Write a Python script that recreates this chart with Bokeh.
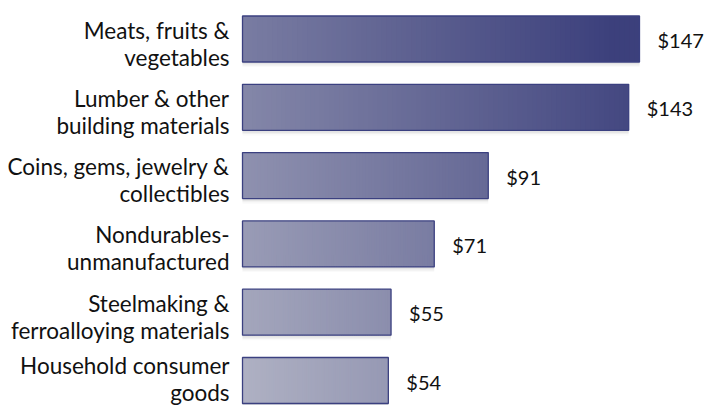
from bokeh.plotting import figure
from bokeh.models import Range1d, ColumnDataSource
from bokeh.embed import file_html
from bokeh.resources import INLINE
from bokeh.core.properties import value as pval

categories = [
    "Meats, fruits &\nvegetables",
    "Lumber & other\nbuilding materials",
    "Coins, gems, jewelry &\ncollectibles",
    "Nondurables-\nunmanufactured",
    "Steelmaking &\nferroalloying materials",
    "Household consumer\ngoods",
]
values = [147, 143, 91, 71, 55, 54]
value_labels = ["$147", "$143", "$91", "$71", "$55", "$54"]

n = len(categories)
rows = list(range(n))

W, H = 706, 405
y_top, y_bot = -0.5637, 5.366

p = figure(width=W, height=H, output_backend="svg", toolbar_location=None,
           x_range=Range1d(-89.61, 171.81), y_range=Range1d(y_bot, y_top),
           min_border=0)
p.axis.visible = False
p.grid.visible = False
p.outline_line_color = None
p.background_fill_color = "white"
p.border_fill_color = "white"

bar_h = 0.673

# soft shadow
for dy, a in [(0.035, 0.10), (0.055, 0.07), (0.075, 0.04)]:
    p.hbar(y=[r + dy for r in rows], left=0, right=values, height=bar_h,
           fill_color="#808080", fill_alpha=a, line_color=None)

# gradient fill via strips
light = (178, 180, 197)
dark = (60, 64, 124)
N = 80
L, R, Y, C = [], [], [], []
for r, v in zip(rows, values):
    rowpos = (n - 1) - r
    for k in range(N):
        x0 = v * k / N
        x1 = v * (k + 1.6) / N if k < N - 1 else v
        xm = v * (k + 0.5) / N
        t = 0.03 + 0.09 * rowpos + 0.0038 * xm
        t = max(0.0, min(1.0, t))
        col = tuple(int(round(light[i] + (dark[i] - light[i]) * t)) for i in range(3))
        L.append(x0); R.append(x1); Y.append(r)
        C.append("#%02x%02x%02x" % col)
src = ColumnDataSource(dict(left=L, right=R, y=Y, color=C))
p.hbar(y="y", left="left", right="right", height=bar_h, fill_color="color",
       line_color=None, source=src)

# outline
p.hbar(y=rows, left=0, right=values, height=bar_h, fill_alpha=0,
       line_color="#3b4080", line_width=1.3)

# category labels (two lines); the block is pushed up near the bottom edge
line1 = [c.split("\n")[0] for c in categories]
line2 = [c.split("\n")[1] for c in categories]
off1, off2 = [], []
for r in rows:
    cpx = (r - y_top) / (y_bot - y_top) * H
    shift = min(0.0, (H - 13) - (cpx + 18))
    off1.append(-9 + shift)
    off2.append(18 + shift)
font = pval("Lato")
lab = ColumnDataSource(dict(x=[0] * n, y=rows, t1=line1, t2=line2, o1=off1, o2=off2))
p.text(x="x", y="y", text="t1", x_offset=-13, y_offset="o1", source=lab,
       text_align="right", text_baseline="alphabetic", text_font=font,
       text_font_size="22.5px", text_color="#111111")
p.text(x="x", y="y", text="t2", x_offset=-13, y_offset="o2", source=lab,
       text_align="right", text_baseline="alphabetic", text_font=font,
       text_font_size="22.5px", text_color="#111111")

# value labels
p.text(x=values, y=rows, text=value_labels, x_offset=18, y_offset=1,
       text_align="left", text_baseline="middle", text_font=font,
       text_font_size="20px", text_color="#111111")

open("out.html", "w").write(file_html(p, INLINE))
